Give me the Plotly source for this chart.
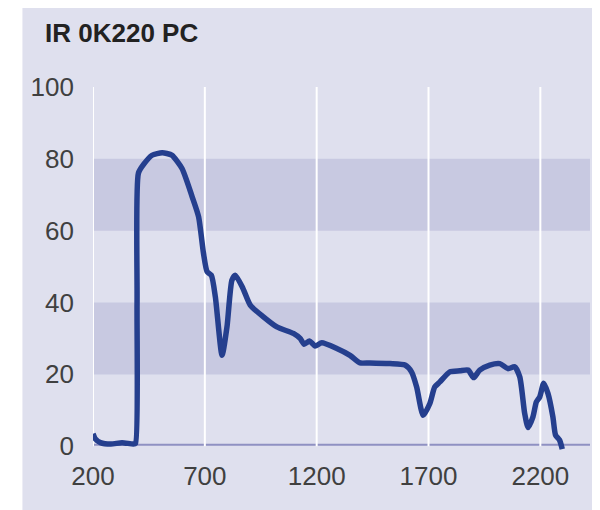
import plotly.graph_objects as go

# Spectrum data (wavelength nm, percent)
wavelength = [200, 211, 233, 280, 330, 380, 390, 397, 403, 427, 464, 509, 530, 553, 598, 643, 672,
              694, 710, 729, 747, 777, 799, 821, 836, 870, 903, 962, 1022, 1096, 1126, 1144,
              1168, 1193, 1223, 1290, 1349, 1394, 1438, 1528, 1595, 1624, 1647, 1676, 1706,
              1728, 1751, 1795, 1840, 1877, 1902, 1929, 1974, 2019, 2055, 2085, 2108, 2130,
              2145, 2167, 2182, 2197, 2215, 2234, 2256, 2268, 2286, 2298]
transmission = [3.5, 2.0, 1.0, 0.6, 1.0, 0.6, 0.8, 40.0, 76.0, 78.5, 81.0, 81.7, 81.5, 81.0, 77.3,
                69.5, 63.9, 53.7, 48.6, 47.6, 41.6, 25.3, 33.2, 46.2, 47.6, 44.0, 39.3, 36.0,
                33.2, 31.4, 30.0, 28.4, 29.3, 27.9, 28.8, 27.2, 25.3, 23.2, 23.2, 23.0, 22.6,
                20.7, 16.5, 8.6, 11.9, 16.5, 17.9, 20.7, 21.0, 21.2, 19.1, 21.2, 22.6, 23.0,
                21.6, 22.1, 19.3, 9.1, 5.2, 8.2, 12.3, 13.7, 17.5, 14.7, 8.2, 3.1, 1.7, -0.8]

title_text = "IR 0K220 PC"
x_ticks = [200, 700, 1200, 1700, 2200]
y_ticks = [0, 20, 40, 60, 80, 100]
bands = [(20, 40), (60, 80)]

BG = "#dfe0ee"
BAND = "#c8c9e1"
LINE = "#253f8e"

fig = go.Figure()
fig.add_trace(go.Scatter(x=wavelength, y=transmission, mode="lines",
                         line=dict(color=LINE, width=5.5, shape="spline", smoothing=0.6),
                         hoverinfo="skip", showlegend=False))

shapes = [dict(type="rect", xref="paper", yref="paper", x0=-0.142, x1=1.04, y0=-0.3, y1=1.2135,
               fillcolor=BG, line=dict(width=0), layer="below")]
for lo, hi in bands:
    shapes.append(dict(type="rect", xref="paper", yref="y", x0=0, x1=1, y0=lo, y1=hi,
                       fillcolor=BAND, line=dict(width=0), layer="below"))
for xv in x_ticks:
    shapes.append(dict(type="line", xref="x", yref="y", x0=xv, x1=xv, y0=0, y1=100,
                       line=dict(color="white", width=2), layer="below"))
shapes.append(dict(type="line", xref="paper", yref="y", x0=0, x1=1, y0=0.4, y1=0.4,
                   line=dict(color="#8f91c2", width=2), layer="below"))

fig.update_layout(
    width=600, height=510,
    margin=dict(l=84.5, r=18, t=79, b=61),
    paper_bgcolor="white", plot_bgcolor=BG,
    shapes=shapes,
    font=dict(family="Liberation Sans, Arial, sans-serif", color="#3a3a3a", size=26),
    xaxis=dict(range=[200, 2422], tickvals=x_ticks, showgrid=False, zeroline=False,
               showline=False, ticks="", ticklabelstandoff=1,
               tickfont=dict(size=26, color="#404040")),
    yaxis=dict(range=[-3, 100], tickvals=y_ticks, showgrid=False, zeroline=False,
               showline=False, ticks="", ticklabelstandoff=18,
               tickfont=dict(size=26, color="#404040")),
    annotations=[dict(text="<b>" + title_text + "</b>", xref="paper", yref="paper",
                      x=-0.100, y=1.146, xanchor="left", yanchor="middle", showarrow=False,
                      font=dict(size=26, color="#222222",
                                family="Liberation Sans, Arial, sans-serif"))],
)

fig.write_html("out.html")
